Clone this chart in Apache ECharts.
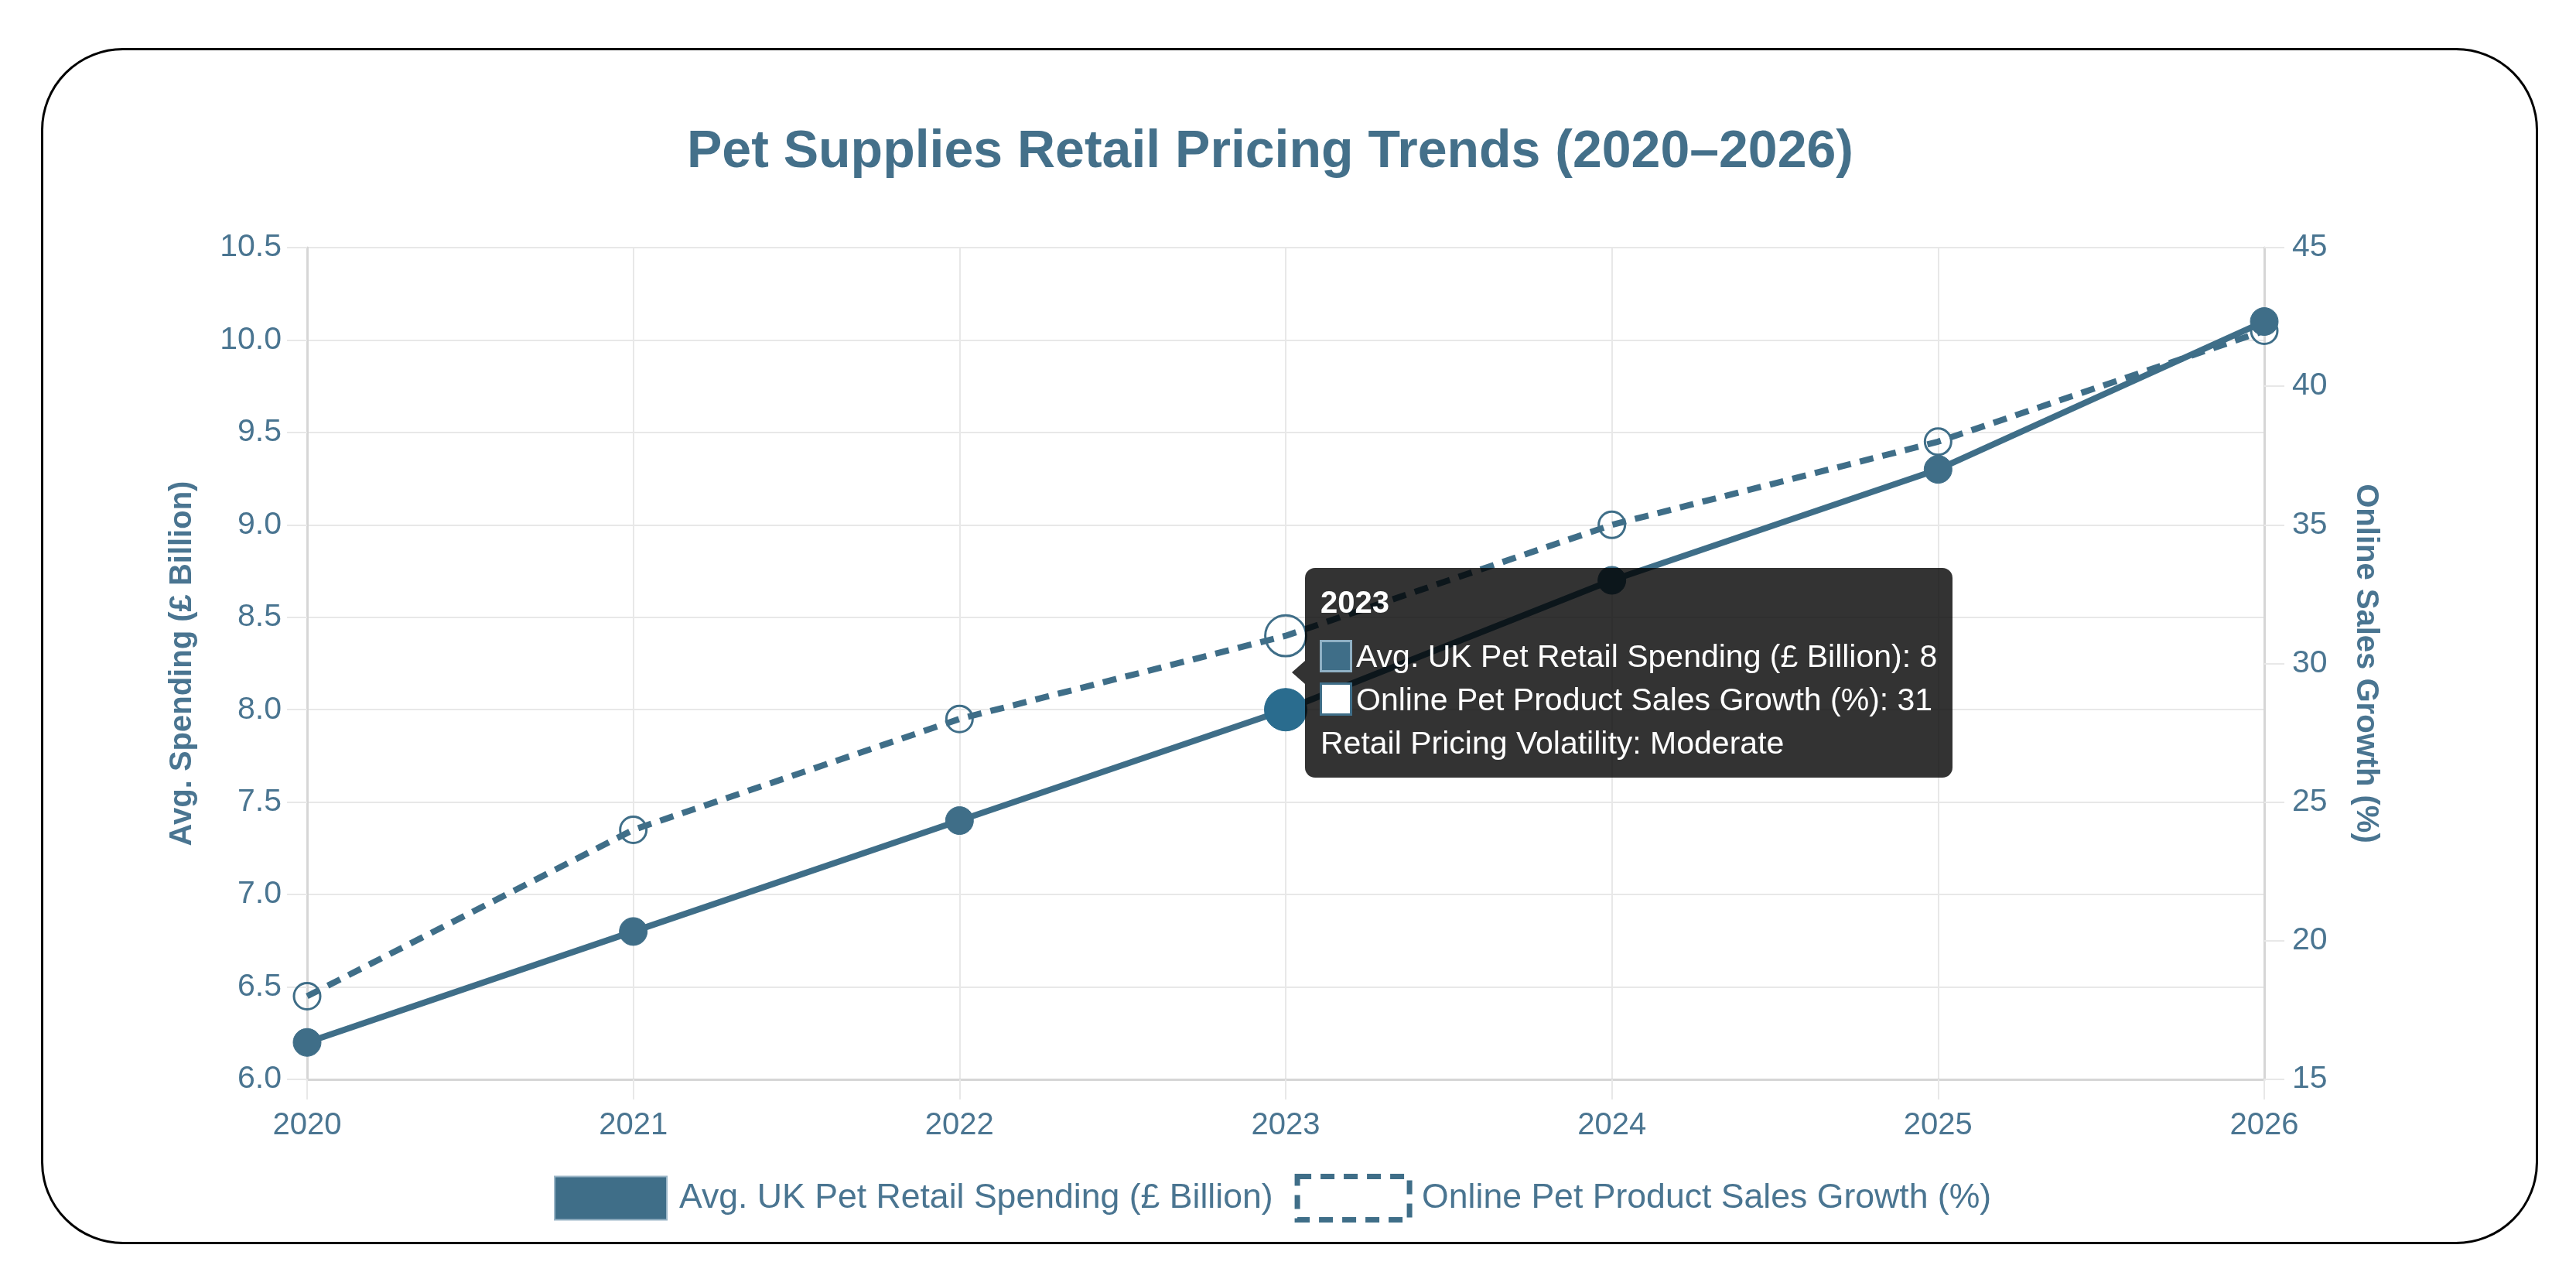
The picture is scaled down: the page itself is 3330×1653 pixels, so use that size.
<!DOCTYPE html>
<html>
<head>
<meta charset="utf-8">
<script src="https://cdn.jsdelivr.net/npm/echarts@6.0.0/dist/echarts.min.js"></script>
<style>
html, body { margin: 0; padding: 0; background: #ffffff; }
#card { position: absolute; left: 53px; top: 62px; width: 3228px; height: 1546px; border: 3px solid #000; border-radius: 106px; box-sizing: border-box; }
#chart { position: absolute; left: 0; top: 0; width: 3330px; height: 1653px; }
</style>
</head>
<body>
<div id="card"></div>
<div id="chart"></div>
<script>
// ---- data ----
const years = ['2020', '2021', '2022', '2023', '2024', '2025', '2026'];
const spending = [6.2, 6.8, 7.4, 8.0, 8.7, 9.3, 10.1];
const onlineGrowth = [18, 24, 28, 31, 35, 38, 42];
const leftAxisTicks = [6.0, 6.5, 7.0, 7.5, 8.0, 8.5, 9.0, 9.5, 10.0, 10.5];
const rightAxisTicks = [15, 20, 25, 30, 35, 40, 45];
const volatilityByYear = { '2023': 'Moderate' };

const TITLE = 'Pet Supplies Retail Pricing Trends (2020\u20132026)';
const S1 = 'Avg. UK Pet Retail Spending (\u00a3 Billion)';
const S2 = 'Online Pet Product Sales Growth (%)';
const Y1_NAME = 'Avg. Spending (\u00a3 Billion)';
const Y2_NAME = 'Online Sales Growth (%)';
const HOVER_INDEX = 3;

// ---- style ----
const FONT = "'Liberation Sans', Arial, Helvetica, sans-serif";
const LINE = '#3f6e88';
const HOVER = '#2a6c8e';
const TEXT = '#4a7591';
const GRID = '#e8e8e8';
const AXIS = '#d6d6d6';

function tipHtml(i) {
  const vol = volatilityByYear[years[i]];
  return '<div style="position:relative;width:837px;height:271px;font-family:' + FONT.replace(/'/g, '&quot;') + ';color:#fff;white-space:nowrap;">' +
    '<div style="position:absolute;left:-17px;top:120px;width:0;height:0;border-top:15px solid transparent;border-bottom:15px solid transparent;border-right:17px solid rgba(0,0,0,0.8);"></div>' +
    '<div style="position:absolute;left:20px;top:24px;font-size:40px;line-height:40px;font-weight:bold;">' + years[i] + '</div>' +
    '<div style="position:absolute;left:19px;top:93px;width:42px;height:42px;box-sizing:border-box;border:3px solid #8fb0c4;background:' + LINE + ';"></div>' +
    '<div style="position:absolute;left:66px;top:94px;font-size:41px;line-height:41px;">' + S1 + ': ' + spending[i] + '</div>' +
    '<div style="position:absolute;left:19px;top:148px;width:42px;height:43px;box-sizing:border-box;border:3px solid ' + LINE + ';background:#ffffff;"></div>' +
    '<div style="position:absolute;left:66px;top:150px;font-size:41px;line-height:41px;">' + S2 + ': ' + onlineGrowth[i] + '</div>' +
    (vol ? '<div style="position:absolute;left:20px;top:206px;font-size:41px;line-height:41px;">Retail Pricing Volatility: ' + vol + '</div>' : '') +
    '</div>';
}

const chart = echarts.init(document.getElementById('chart'), null, { renderer: 'canvas' });

const option = {
  animation: false,
  backgroundColor: 'transparent',
  title: {
    text: TITLE,
    left: 888,
    top: 163,
    padding: 0,
    textStyle: { color: '#44708a', fontSize: 68, fontWeight: 'bold', fontFamily: FONT }
  },
  grid: { left: 397, right: 403, top: 320, bottom: 258, containLabel: false, outerBoundsMode: 'none' },
  legend: {
    left: 716,
    top: 1517,
    padding: 0,
    itemGap: 28,
    itemWidth: 145,
    itemHeight: 56,
    selectedMode: false,
    textStyle: { color: TEXT, fontSize: 44.6, fontFamily: FONT, padding: [0, 0, 0, 11] },
    data: [
      { name: S1, icon: 'rect', itemStyle: { color: LINE, borderColor: '#9bb6c7', borderWidth: 2 } },
      { name: S2, icon: 'rect', itemStyle: { color: '#ffffff', borderColor: LINE, borderWidth: 7, borderType: [18, 12] } }
    ]
  },
  tooltip: {
    trigger: 'axis',
    alwaysShowContent: true,
    showDelay: 0,
    hideDelay: 0,
    transitionDuration: 0,
    backgroundColor: 'rgba(0,0,0,0.8)',
    borderWidth: 0,
    padding: 0,
    extraCssText: 'border-radius:13px;box-shadow:none;',
    axisPointer: { type: 'none' },
    position: function () { return [1687, 734]; },
    formatter: function (params) { return tipHtml(params[0].dataIndex); }
  },
  xAxis: {
    type: 'category',
    data: years,
    boundaryGap: false,
    axisLine: { show: true, lineStyle: { color: AXIS, width: 3 } },
    axisTick: { show: true, length: 26, lineStyle: { color: GRID, width: 2 } },
    axisLabel: { color: TEXT, fontSize: 40, fontFamily: FONT, margin: 40 },
    splitLine: { show: true, lineStyle: { color: GRID, width: 2 } }
  },
  yAxis: [
    {
      type: 'value',
      position: 'left',
      min: leftAxisTicks[0],
      max: leftAxisTicks[leftAxisTicks.length - 1],
      interval: 0.5,
      name: Y1_NAME,
      nameLocation: 'middle',
      nameGap: 141,
      nameRotate: 90,
      nameMoveOverlap: false,
      nameTextStyle: { color: TEXT, fontSize: 40, fontWeight: 'bold', fontFamily: FONT },
      axisLine: { show: true, lineStyle: { color: AXIS, width: 3 } },
      axisTick: { show: true, length: 26, lineStyle: { color: GRID, width: 2 } },
      axisLabel: { color: TEXT, fontSize: 41, fontFamily: FONT, margin: 33, formatter: function (v) { return v.toFixed(1); } },
      splitLine: { show: true, lineStyle: { color: GRID, width: 2 } }
    },
    {
      type: 'value',
      position: 'right',
      min: rightAxisTicks[0],
      max: rightAxisTicks[rightAxisTicks.length - 1],
      interval: 5,
      name: Y2_NAME,
      nameLocation: 'middle',
      nameGap: 111,
      nameRotate: -90,
      nameMoveOverlap: false,
      nameTextStyle: { color: TEXT, fontSize: 40, fontWeight: 'bold', fontFamily: FONT },
      axisLine: { show: true, lineStyle: { color: AXIS, width: 3 } },
      axisTick: { show: true, length: 26, lineStyle: { color: GRID, width: 2 } },
      axisLabel: { color: TEXT, fontSize: 41, fontFamily: FONT, margin: 36 },
      splitLine: { show: false }
    }
  ],
  series: [
    {
      name: S1,
      type: 'line',
      yAxisIndex: 0,
      z: 3,
      symbol: 'circle',
      symbolSize: 36,
      showAllSymbol: true,
      clip: false,
      itemStyle: { color: LINE, borderColor: LINE, borderWidth: 1 },
      lineStyle: { color: LINE, width: 8 },
      emphasis: { disabled: true },
      data: spending.map(function (v, i) {
        return i === HOVER_INDEX ? { value: v, symbolSize: 50, itemStyle: { color: HOVER, borderColor: HOVER } } : v;
      })
    },
    {
      name: S2,
      type: 'line',
      yAxisIndex: 1,
      z: 2,
      symbol: 'circle',
      symbolSize: 34,
      showAllSymbol: true,
      clip: false,
      itemStyle: { color: 'rgba(255,255,255,0)', borderColor: LINE, borderWidth: 3 },
      lineStyle: { color: LINE, width: 8, type: [18, 12] },
      emphasis: { disabled: true },
      data: onlineGrowth.map(function (v, i) {
        return i === HOVER_INDEX ? { value: v, symbolSize: 48 } : v;
      })
    }
  ]
};

chart.setOption(option);
chart.dispatchAction({ type: 'showTip', seriesIndex: 0, dataIndex: HOVER_INDEX });
</script>
</body>
</html>
